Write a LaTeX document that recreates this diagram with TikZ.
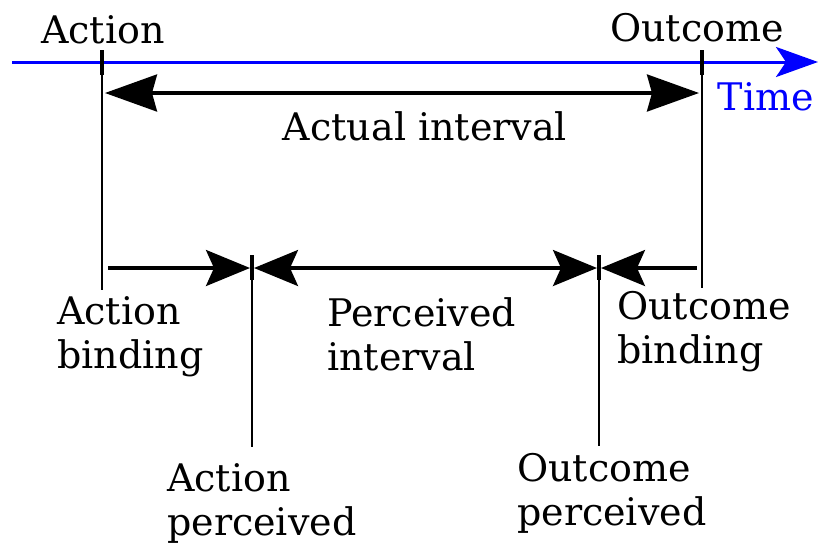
\documentclass[tikz,border=0pt]{standalone}
\usepackage{fontspec}
\setmainfont{DejaVu Serif}
\usetikzlibrary{arrows.meta}

\begin{document}
\begin{tikzpicture}[x=1pt,y=-1pt,font=\fontsize{38}{44}\selectfont,
    tick/.style={line width=4pt},
    guide/.style={line width=1.5pt},
    interval/.style={line width=3.2pt},
    bigtip/.tip={Stealth[length=52pt,width=37pt,inset=5pt]},
    smalltip/.tip={Stealth[length=44pt,width=36pt,inset=8pt]},
    label/.style={inner sep=0pt,align=left,anchor=base west}]
  \useasboundingbox (0,0) rectangle (819,547);

  % time axis
  \coordinate (t0) at (12,62);
  \coordinate (t1) at (818,62);
  \draw[blue,line width=3pt,-{Stealth[length=42pt,width=30pt,inset=10pt]}] (t0) -- (t1);
  \node (time) at (766,110) [inner sep=0pt,anchor=base,blue] {Time};

  % action and outcome
  \coordinate (a0) at (102,50);
  \coordinate (a1) at (102,75);
  \coordinate (a2) at (102,290);
  \coordinate (o0) at (702,50);
  \coordinate (o1) at (702,75);
  \coordinate (o2) at (702,288);
  \draw[tick] (a0) -- (a1);
  \draw[tick] (o0) -- (o1);
  \draw[guide] (a1) -- (a2);
  \draw[guide] (o1) -- (o2);
  \node (action) at (103,43) [inner sep=0pt,anchor=base] {Action};
  \node (outcome) at (697,41) [inner sep=0pt,anchor=base] {Outcome};

  \coordinate (ai0) at (105,93);
  \coordinate (ai1) at (699,93);
  \draw[interval,bigtip-bigtip] (ai0) -- (ai1);
  \node (actual) at (425,140) [inner sep=0pt,anchor=base] {Actual interval};

  % perceived times
  \coordinate (pa0) at (252,255);
  \coordinate (pa1) at (252,280);
  \coordinate (pa2) at (252,447);
  \coordinate (po0) at (599,255);
  \coordinate (po1) at (599,280);
  \coordinate (po2) at (599,446);
  \draw[tick] (pa0) -- (pa1);
  \draw[tick] (po0) -- (po1);
  \draw[guide] (pa1) -- (pa2);
  \draw[guide] (po1) -- (po2);

  \coordinate (ab0) at (108,268);
  \coordinate (ab1) at (250,268);
  \coordinate (pi0) at (254,268);
  \coordinate (pi1) at (597,268);
  \coordinate (ob0) at (697,268);
  \coordinate (ob1) at (601,268);
  \draw[interval,-smalltip] (ab0) -- (ab1);
  \draw[interval,smalltip-smalltip] (pi0) -- (pi1);
  \draw[interval,-smalltip] (ob0) -- (ob1);

  \node (abind) at (57,368) [label] {Action\\binding};
  \node (pint) at (327,370) [label] {Perceived\\interval};
  \node (obind) at (617,363) [label] {Outcome\\binding};
  \node (aperc) at (167,535) [label] {Action\\perceived};
  \node (operc) at (517,525) [label] {Outcome\\perceived};
\end{tikzpicture}
\end{document}
